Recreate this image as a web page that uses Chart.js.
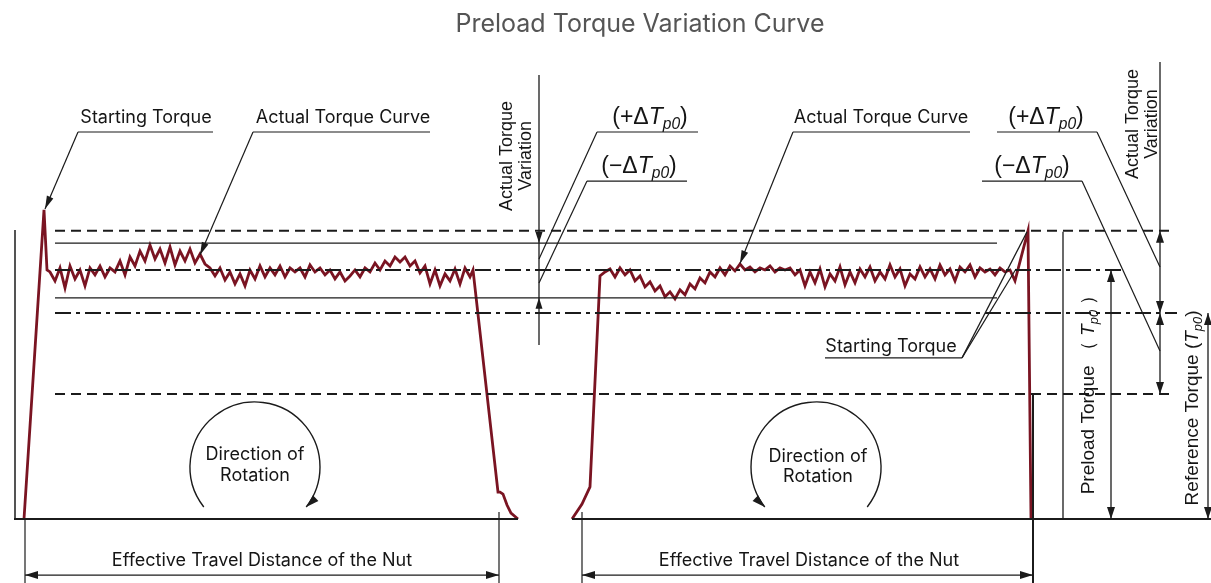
<!DOCTYPE html>
<html>
<head>
<meta charset="utf-8">
<script src="https://cdn.jsdelivr.net/npm/chart.js@4.4.0/dist/chart.umd.min.js"></script>
<style>
  body { margin: 0; background: #fff; }
  #wrap { width: 1211px; height: 583px; }
</style>
</head>
<body>
<div id="wrap"><canvas id="chart" width="1211" height="583"></canvas></div>
<script>
// travel position (x) and torque (% of preload, preload Tp0 = 100)
const travelStep = 0.5;

const leftNoiseStart = 5.0;
const leftTorque = [99.2, 95.6, 100.8, 92.8, 101.6, 96.4, 100, 93.6, 100.8, 98.0,
  101.6, 97.2, 100.8, 99.2, 103.6, 98.0, 105.2, 101.6, 107.6, 103.6,
  110.0, 104.4, 108.4, 102.8, 109.2, 102.0, 107.6, 103.6, 108.4, 102.8,
  106.4, 102.4, 100.8, 97.6, 100.8, 96.0, 99.2, 94.4, 98.4, 93.6,
  100, 96.4, 101.6, 97.2, 100.8, 98.0, 101.6, 97.2, 100.8, 99.2,
  100.8, 97.2, 102.0, 99.2, 100.8, 98.0, 100, 96.4, 99.2, 95.6,
  97.6, 100, 97.2, 100.8, 99.2, 102.8, 100, 103.6, 101.6, 105.2,
  103.2, 105.2, 101.6, 103.6, 98.8, 101.6, 94.4, 100, 93.6, 98.4,
  95.6, 100.4, 94.4, 100.8, 97.2];
const leftStartX = [2.4, 4.4, 4.7];
const leftStartY = [0, 124.1, 100];
const leftEndX = [47.3, 49.8, 50.0, 50.3, 50.7, 51.1, 51.8];
const leftEndY = [100, 10.8, 10.8, 10.0, 5.6, 2.4, 0];

const rightNoiseStart = 60.0;
const rightTorque = [97.6, 99.2, 100.4, 97.2, 100.8, 98.0, 100, 95.6, 97.6, 93.2,
  95.2, 91.6, 93.6, 89.2, 91.2, 88.4, 92, 90.0, 94.4, 92.4,
  96.8, 94.8, 99.2, 97.2, 100.8, 98.0, 101.6, 99.6, 102.4, 100,
  101.2, 99.2, 100.8, 100, 101.6, 99.2, 100.8, 100, 100.8, 98.0,
  100, 93.6, 99.2, 94.8, 100.4, 93.2, 98.4, 95.6, 101.2, 94.0,
  99.2, 94.8, 100.4, 97.2, 101.2, 95.6, 99.2, 96.4, 102.0, 97.2,
  100.4, 93.6, 98.4, 96.4, 101.2, 97.2, 100.4, 96.4, 102.0, 98.0,
  100.4, 95.6, 101.2, 99.2, 102.0, 97.2, 100.8, 99.2, 100.4, 98.0,
  100.8, 99.2, 100, 95.6];
const rightStartX = [57.2, 58.2, 59.0];
const rightStartY = [0, 6.0, 12.9];
const rightEndX = [102.8, 103.1];
const rightEndY = [115.7, 0];

// reference levels
const levelNames = ['+ΔTp0 limit', 'Actual max', 'Preload Tp0', 'Actual min', 'Reference Tp0', '−ΔTp0 limit'];
const levelValues = [115.7, 110.8, 100, 88.8, 82.7, 50.2];

const red = '#7a1422';
const ink = '#1b1b1b';

function pts(xs, ys) {
  return xs.map((x, i) => ({ x: x, y: ys[i] }));
}

const leftCurve = [
  ...pts(leftStartX, leftStartY),
  ...leftTorque.map((v, i) => ({ x: leftNoiseStart + i * travelStep, y: v })),
  ...pts(leftEndX, leftEndY)
];
const rightCurve = [
  ...pts(rightStartX, rightStartY),
  ...rightTorque.map((v, i) => ({ x: rightNoiseStart + i * travelStep, y: v })),
  ...pts(rightEndX, rightEndY)
];

function seg(x1, y1, x2, y2, w, dash) {
  return {
    data: [{ x: x1, y: y1 }, { x: x2, y: y2 }],
    borderColor: ink, borderWidth: w, borderDash: dash || [],
    pointRadius: 0, tension: 0
  };
}

// line styles for the levels
const levelEnd = [117.0, 99.7, 112.2, 99.7, 117.7, 117.0];
const levelWidth = [2, 1.2, 2, 1.2, 2, 2];
const levelDash = [[10, 6], [], [16, 5, 4, 5], [], [16, 5, 4, 5], [10, 6]];

const datasets = levelValues.map((v, i) => ({ label: levelNames[i], ...seg(5.5, v, levelEnd[i], v, levelWidth[i], levelDash[i]) }));
datasets.push(seg(1.4, 0, 51.8, 0, 2.2));
datasets.push(seg(57.2, 0, 121.1, 0, 2.2));
datasets.push(seg(1.5, 0, 1.5, 116, 1.5));
datasets.push(seg(106.3, 115.3, 106.3, 0, 1.3));
datasets.push(seg(103.3, 50, 103.3, -25.7, 2));
datasets.push({ label: 'Torque run 1', data: leftCurve, borderColor: red, borderWidth: 2.8, pointRadius: 0, tension: 0 });
datasets.push({ label: 'Torque run 2', data: rightCurve, borderColor: red, borderWidth: 2.8, pointRadius: 0, tension: 0 });

function arrowHead(ctx, tx, ty, ang, len, half) {
  ctx.save();
  ctx.translate(tx, ty);
  ctx.rotate(ang);
  ctx.beginPath();
  ctx.moveTo(0, 0);
  ctx.lineTo(-len, -half);
  ctx.lineTo(-len, half);
  ctx.closePath();
  ctx.fill();
  ctx.restore();
}

function rich(ctx, parts, cx, cy, size, family, rot) {
  ctx.save();
  ctx.translate(cx, cy);
  ctx.rotate(rot || 0);
  const fontOf = s => (s.includes('i') ? 'italic ' : '') + (s.includes('s') ? size * 0.68 : size) + 'px ' + family;
  let w = 0;
  parts.forEach(([t, s]) => { ctx.font = fontOf(s); w += ctx.measureText(t).width; });
  let x = -w / 2;
  ctx.textBaseline = 'middle';
  ctx.textAlign = 'left';
  parts.forEach(([t, s]) => {
    ctx.font = fontOf(s);
    ctx.fillText(t, x, s.includes('s') ? size * 0.3 : 0);
    x += ctx.measureText(t).width;
  });
  ctx.restore();
}

const annotate = {
  id: 'annotate',
  afterDatasetsDraw(chart) {
    const { ctx, scales: { x, y } } = chart;
    const X = v => x.getPixelForValue(v);
    const Y = v => y.getPixelForValue(v);
    ctx.save();
    ctx.strokeStyle = ink;
    ctx.fillStyle = ink;
    ctx.lineWidth = 1.2;
    const line = (x1, y1, x2, y2, w) => {
      ctx.lineWidth = w || 1.2;
      ctx.beginPath();
      ctx.moveTo(X(x1), Y(y1));
      ctx.lineTo(X(x2), Y(y2));
      ctx.stroke();
    };
    const leader = (x1, y1, x2, y2) => {
      line(x1, y1, x2, y2, 1.2);
      const ang = Math.atan2(Y(y2) - Y(y1), X(x2) - X(x1));
      arrowHead(ctx, X(x2), Y(y2), ang, 13, 3.5);
    };
    const U = Math.PI / 2;
    const txt = '#151515';

    // title
    ctx.fillStyle = '#555';
    ctx.font = '25px Inter';
    ctx.textAlign = 'center';
    ctx.textBaseline = 'middle';
    ctx.fillText('Preload Torque Variation Curve', 640, 24);

    // labels with underlines
    ctx.font = '18px Inter';
    ctx.fillStyle = txt;
    ctx.fillText('Starting Torque', X(14.6), Y(161));
    ctx.fillText('Actual Torque Curve', X(34.3), Y(161));
    ctx.fillText('Actual Torque Curve', X(88.1), Y(161));
    ctx.fillText('Starting Torque', X(89.1), Y(69.3));
    ctx.fillStyle = ink;
    line(7.8, 155.4, 21.3, 155.4);
    leader(7.8, 155.4, 4.5, 124.5);
    line(25.3, 155.4, 43.0, 155.4);
    leader(25.3, 155.4, 20.0, 106.0);
    line(79.3, 155.4, 97.0, 155.4);
    leader(79.3, 155.4, 74.0, 102.6);
    line(82.5, 64.7, 96.2, 64.7);
    line(96.2, 64.7, 102.7, 115.3);
    line(96.2, 64.7, 101.6, 100.4);

    // delta labels
    const plus = [['(+Δ', ''], ['T', 'i'], ['p0', 'is'], [')', '']];
    const minus = [['(−Δ', ''], ['T', 'i'], ['p0', 'is'], [')', '']];
    const lf = '"Liberation Sans", Arial, sans-serif';
    ctx.fillStyle = txt;
    rich(ctx, plus, X(65.0), Y(161.2), 23, lf);
    rich(ctx, minus, X(63.9), Y(141.6), 23, lf);
    rich(ctx, plus, X(104.6), Y(161.2), 23, lf);
    rich(ctx, minus, X(103.2), Y(141.6), 23, lf);
    ctx.fillStyle = ink;
    line(59.7, 155.4, 69.8, 155.4);
    line(59.7, 155.4, 53.9, 104.4);
    line(58.7, 135.7, 68.7, 135.7);
    line(58.7, 135.7, 53.9, 94.8);
    line(99.7, 155.4, 109.7, 155.4);
    line(109.7, 155.4, 116.0, 101.2);
    line(98.2, 135.7, 108.2, 135.7);
    line(108.2, 135.7, 116.0, 67.5);

    // variation dimension lines
    line(53.9, 178.3, 53.9, 69.9, 1.3);
    arrowHead(ctx, X(53.9), Y(110.8), U, 11, 3.5);
    arrowHead(ctx, X(53.9), Y(88.8), -U, 11, 3.5);
    line(116.0, 183.5, 116.0, 50.2, 1.3);
    arrowHead(ctx, X(116.0), Y(115.7), -U, 12, 4);
    arrowHead(ctx, X(116.0), Y(82.7), U, 12, 4);
    arrowHead(ctx, X(116.0), Y(82.7), -U, 12, 4);
    arrowHead(ctx, X(116.0), Y(50.2), U, 12, 4);

    // preload and reference torque
    line(111.1, 100, 111.1, 0, 1.3);
    arrowHead(ctx, X(111.1), Y(100), -U, 12, 4);
    arrowHead(ctx, X(111.1), Y(0), U, 12, 4);
    line(120.8, 82.7, 120.8, 0, 1.3);
    arrowHead(ctx, X(120.8), Y(82.7), -U, 12, 4);
    arrowHead(ctx, X(120.8), Y(0), U, 12, 4);

    // rotated texts
    ctx.fillStyle = txt;
    const rot = t => {
      ctx.save();
      ctx.translate(X(t[1]), Y(t[2]));
      ctx.rotate(-U);
      ctx.font = '18px ' + lf;
      ctx.textAlign = 'center';
      ctx.textBaseline = 'middle';
      ctx.fillText(t[0], 0, 0);
      ctx.restore();
    };
    rot(['Actual Torque', 50.7, 145.8]);
    rot(['Variation', 52.6, 145.8]);
    rot(['Actual Torque', 113.3, 158.6]);
    rot(['Variation', 115.2, 158.6]);
    rich(ctx, [['Preload Torque （ ', ''], ['T', 'i'], ['p0', 'is'], [' ）', '']], X(108.9), Y(51.8), 19, lf, -U);
    rich(ctx, [['Reference Torque (', ''], ['T', 'i'], ['p0', 'is'], [')', '']], X(119.3), Y(44.6), 19, lf, -U);

    // direction of rotation
    ctx.font = '18px Inter';
    ctx.textAlign = 'center';
    ctx.textBaseline = 'middle';
    ctx.fillText('Direction of', X(25.5), Y(25.7));
    ctx.fillText('Rotation', X(25.5), Y(17.3));
    ctx.fillText('Direction of', X(81.8), Y(24.9));
    ctx.fillText('Rotation', X(81.8), Y(16.9));
    ctx.fillStyle = ink;
    const r = X(6.5) - X(0);
    const a1 = 38 * Math.PI / 180, a2 = 142 * Math.PI / 180;
    ctx.lineWidth = 1.4;
    let cx = X(25.5), cy = Y(20.9);
    ctx.beginPath();
    ctx.arc(cx, cy, r, a2, a1 + 2 * Math.PI, false);
    ctx.stroke();
    arrowHead(ctx, cx + r * Math.cos(a1), cy + r * Math.sin(a1), a1 + U + 0.15, 13, 4);
    cx = X(81.6);
    ctx.beginPath();
    ctx.arc(cx, cy, r, a1, a2 - 2 * Math.PI, true);
    ctx.stroke();
    arrowHead(ctx, cx + r * Math.cos(a2), cy + r * Math.sin(a2), a2 - U - 0.15, 13, 4);

    // effective travel distance
    line(2.5, 0, 2.5, -25.7, 1.2);
    line(49.9, 2.8, 49.9, -25.7, 1.2);
    line(58.2, 2.8, 58.2, -25.7, 1.2);
    line(2.5, -22.5, 49.9, -22.5, 1.2);
    line(58.2, -22.5, 103.3, -22.5, 1.2);
    arrowHead(ctx, X(2.5), Y(-22.5), Math.PI, 13, 4);
    arrowHead(ctx, X(49.9), Y(-22.5), 0, 13, 4);
    arrowHead(ctx, X(58.2), Y(-22.5), Math.PI, 13, 4);
    arrowHead(ctx, X(103.3), Y(-22.5), 0, 13, 4);
    ctx.font = '18px Inter';
    ctx.fillStyle = txt;
    ctx.fillText('Effective Travel Distance of the Nut', X(26.2), Y(-16.9));
    ctx.fillText('Effective Travel Distance of the Nut', X(80.9), Y(-16.9));
    ctx.restore();
  }
};

new Chart(document.getElementById('chart'), {
  type: 'line',
  data: { datasets: datasets },
  options: {
    responsive: false,
    animation: false,
    layout: { padding: 0 },
    plugins: { legend: { display: false }, tooltip: { enabled: false }, title: { display: false } },
    scales: {
      x: { type: 'linear', display: false, min: 0, max: 121.1 },
      y: { type: 'linear', display: false, min: -25.7, max: 208.4 }
    }
  },
  plugins: [annotate]
});
</script>
</body>
</html>
